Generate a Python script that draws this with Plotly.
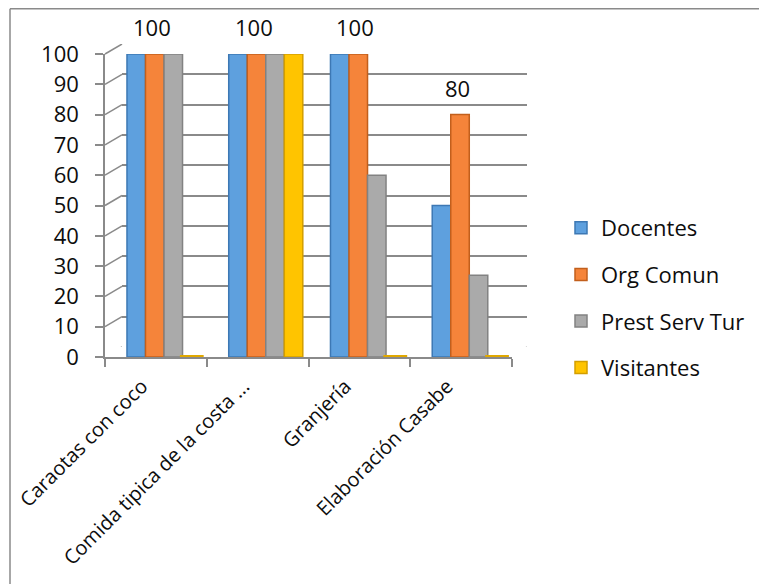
import plotly.graph_objects as go

categories = ["Caraotas con coco", "Comida tipica de la costa ...", "Granjería", "Elaboración Casabe"]
series_names = ["Docentes", "Org Comun", "Prest Serv Tur", "Visitantes"]
docentes = [100, 100, 100, 50]
org_comun = [100, 100, 100, 80]
prest_serv_tur = [100, 100, 60, 27]
visitantes = [0, 100, 0, 0]
y_ticks = [0, 10, 20, 30, 40, 50, 60, 70, 80, 90, 100]

values = [docentes, org_comun, prest_serv_tur, visitantes]
colors = ["#5EA0DE", "#F5843A", "#AAAAAA", "#FFC400"]
edge_colors = ["#3D78B4", "#C25F1C", "#828282", "#D39E00"]
offsets = [-0.284, -0.102, 0.080, 0.262]
bar_w = 0.182

# page body has an 8px margin; figure sized to fit the 767x584 window
OFF = 8
W, H = 767 - OFF, 584 - OFF
FONT = "Open Sans"
TXT = "#0d0d0d"
AX = "#8a8a8a"

# screen-pixel geometry of front/back planes
fx0, fx1 = 105, 512        # front x extent
bx0, bx1 = 122, 527        # back wall x extent
fy0, fy1 = 357, 54         # front y for 0 and 100
dy = 10                    # back wall is 10px above front

def px(v):
    return (v - OFF) / W

def py(v):
    return 1 - (v - OFF) / H

fig = go.Figure()

# back wall subplot (x, y) - gridlines only
fig.add_trace(go.Scatter(x=[], y=[], xaxis="x", yaxis="y", showlegend=False, hoverinfo="skip"))

# bars on front subplot (x2, y2)
for name, vals, col, ecol, off in zip(series_names, values, colors, edge_colors, offsets):
    fig.add_trace(go.Bar(
        x=categories, y=vals, name=name, xaxis="x2", yaxis="y2",
        marker=dict(color=col, line=dict(color=ecol, width=1.5)),
        offset=off, width=bar_w, legendgroup=name,
    ))

# flat discs for zero-valued Visitantes bars
zero_idx = [i + offsets[3] + bar_w / 2 for i, v in enumerate(visitantes) if v == 0]
zero_val = [v for v in visitantes if v == 0]
fig.add_trace(go.Scatter(
    x=zero_idx, y=zero_val, xaxis="x3", yaxis="y2", mode="markers",
    marker=dict(symbol="line-ew-open", size=17, color="#E0A800",
                line=dict(color="#E0A800", width=4)),
    showlegend=False, hoverinfo="skip", cliponaxis=False,
))

# data labels above Org Comun bars
annotations = []
for cat, v in zip(categories, org_comun):
    annotations.append(dict(
        x=cat, y=v, xref="x2", yref="y2", text=str(v), showarrow=False,
        xshift=-4, yshift=27, font=dict(family=FONT, size=22, color=TXT),
    ))

shapes = []
# depth connectors on left wall for each tick
for v in y_ticks:
    shapes.append(dict(
        type="line", xref="paper", yref="y", ysizemode="pixel", yanchor=v,
        x0=px(fx0), x1=px(bx0), y0=-dy, y1=0,
        line=dict(color=AX, width=1.5), layer="above",
    ))
# right floor edge
shapes.append(dict(
    type="line", xref="paper", yref="y", ysizemode="pixel", yanchor=y_ticks[0],
    x0=px(fx1), x1=px(bx1), y0=-dy, y1=0,
    line=dict(color=AX, width=1.5), layer="above",
))
# outer frame (left and top)
shapes.append(dict(type="line", xref="paper", yref="paper", x0=px(10), x1=px(10), y0=py(8.7), y1=0,
                   line=dict(color="#8a8a8a", width=1.5)))
shapes.append(dict(type="line", xref="paper", yref="paper", x0=px(10), x1=1, y0=py(8.7), y1=py(8.7),
                   line=dict(color="#8a8a8a", width=1.5)))

fig.update_layout(
    width=W, height=H,
    margin=dict(l=0, r=0, t=0, b=0, autoexpand=False),
    paper_bgcolor="white", plot_bgcolor="rgba(0,0,0,0)",
    font=dict(family=FONT, size=20, color=TXT),
    barmode="overlay",
    xaxis=dict(domain=[px(bx0), px(bx1)], range=[0, 1], visible=False, showgrid=False,
               anchor="y", automargin=False),
    yaxis=dict(domain=[py(fy0 - dy), py(fy1 - dy)], range=[0, 100], anchor="x", automargin=False,
               showgrid=True, gridcolor=AX, gridwidth=1.5, tickvals=y_ticks,
               showticklabels=False, zeroline=False, showline=False, ticks=""),
    xaxis2=dict(domain=[px(fx0), px(fx1)], anchor="y2", type="category", automargin=False,
                categoryorder="array", categoryarray=categories,
                range=[-0.5, len(categories) - 0.5],
                showline=True, linecolor=AX, linewidth=1.5, showgrid=False,
                ticks="outside", tickson="boundaries", ticklen=8, tickcolor=AX, tickwidth=1.5,
                tickangle=-45, ticklabelshift=-14, ticklabelstandoff=8,
                tickfont=dict(family=FONT, size=20, color=TXT)),
    xaxis3=dict(overlaying="x2", range=[-0.5, len(categories) - 0.5], visible=False,
                anchor="y2", automargin=False),
    yaxis2=dict(domain=[py(fy0), py(fy1)], range=[0, 100], anchor="x2", automargin=False,
                showline=True, linecolor=AX, linewidth=1.5, showgrid=False, zeroline=False,
                ticks="outside", ticklen=8, tickcolor=AX, tickwidth=1.5,
                tickvals=y_ticks, ticklabelstandoff=12,
                tickfont=dict(family=FONT, size=22, color=TXT)),
    legend=dict(x=px(561), y=py(207), xanchor="left", yanchor="top",
                font=dict(family=FONT, size=22, color=TXT),
                traceorder="grouped", tracegroupgap=15, bgcolor="rgba(0,0,0,0)"),
    annotations=annotations,
    shapes=shapes,
    showlegend=True,
)

fig.write_html("out.html")
